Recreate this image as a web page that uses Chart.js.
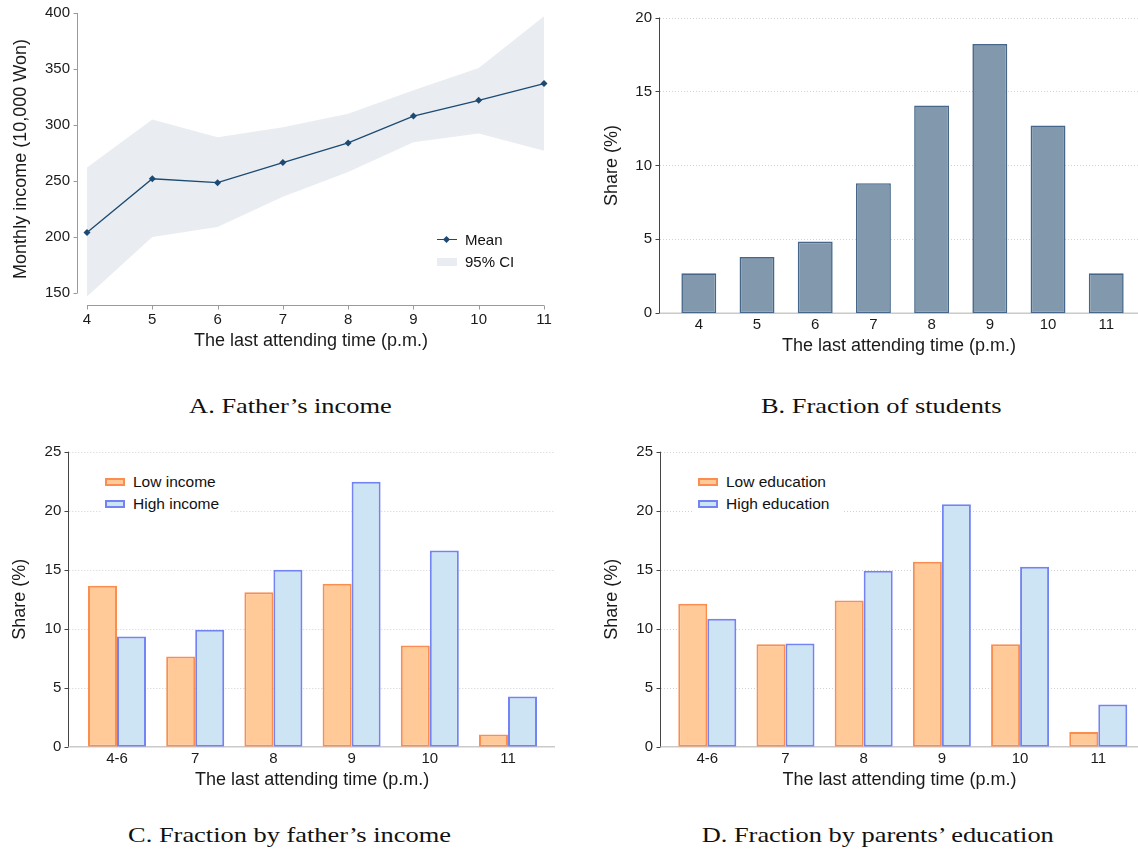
<!DOCTYPE html>
<html>
<head>
<meta charset="utf-8">
<script src="https://cdn.jsdelivr.net/npm/chart.js@4.4.1/dist/chart.umd.min.js"></script>
<style>
  html, body { margin: 0; padding: 0; background: #fff; overflow: hidden; }
  #pagina { position: relative; width: 1138px; height: 856px; }
  canvas { position: absolute; }
  .titulo { position: absolute; width: 600px; text-align: center; font-family: "Liberation Serif", serif; font-size: 22px; line-height: 26px; color: #111; }
  .titulo span { display: inline-block; transform: scaleX(1.2); }
  .leyenda { position: absolute; font-family: "Liberation Sans", Arial, sans-serif; font-size: 15.5px; color: #111; background: #fff; }
  .item { position: relative; height: 22px; line-height: 22px; padding-left: 32px; white-space: nowrap; }
  .caja { position: absolute; left: 4px; top: 7px; width: 16px; height: 4px; border: 2px solid; }
  .linea { position: absolute; left: 0; top: 10px; width: 20px; height: 0; border-top: 1.5px solid #1c4a72; }
  .rombo { position: absolute; left: 7px; top: 8px; width: 5px; height: 5px; background: #1c4a72; transform: rotate(45deg); }
</style>
</head>
<body>
<div id="pagina">
  <canvas id="graficoA" width="569" height="380" style="left:0;top:0"></canvas>
  <canvas id="graficoB" width="569" height="380" style="left:569px;top:0"></canvas>
  <canvas id="graficoC" width="569" height="380" style="left:0;top:428px"></canvas>
  <canvas id="graficoD" width="569" height="380" style="left:569px;top:428px"></canvas>

  <div class="leyenda" style="left:437px;top:229px;font-size:15px;background:transparent">
    <div class="item" style="padding-left:28px"><span class="linea"></span><span class="rombo"></span>Mean</div>
    <div class="item" style="padding-left:28px"><span class="caja" style="left:0;top:7px;width:20px;height:8px;border:none;background:#e9edf1"></span>95% CI</div>
  </div>
  <div class="leyenda" style="left:101px;top:470px;width:130px;height:50px;padding-top:1px">
    <div class="item"><span class="caja" style="background:#ffca98;border-color:#fb8d4f"></span>Low income</div>
    <div class="item"><span class="caja" style="background:#cde4f4;border-color:#7383f4"></span>High income</div>
  </div>
  <div class="leyenda" style="left:694px;top:470px;width:149px;height:50px;padding-top:1px">
    <div class="item"><span class="caja" style="background:#ffca98;border-color:#fb8d4f"></span>Low education</div>
    <div class="item"><span class="caja" style="background:#cde4f4;border-color:#7383f4"></span>High education</div>
  </div>

  <div class="titulo" style="left:-10px;top:393px"><span>A. Father’s income</span></div>
  <div class="titulo" style="left:581px;top:393px"><span>B. Fraction of students</span></div>
  <div class="titulo" style="left:-10px;top:822px"><span>C. Fraction by father’s income</span></div>
  <div class="titulo" style="left:578px;top:822px"><span>D. Fraction by parents’ education</span></div>
</div>
<script>
// Datos del panel A (ingreso del padre)
const horasA = [4, 5, 6, 7, 8, 9, 10, 11];
const ingresoMedio = [204, 252, 248.5, 266.5, 284, 308, 322, 337];
const ingresoSup = [262, 305, 289, 298, 310, 331, 351, 397];
const ingresoInf = [147, 200, 209, 236, 258, 284.5, 292.5, 277];
const ticksIngreso = [150, 200, 250, 300, 350, 400];

// Datos del panel B (fracción de estudiantes)
const horasB = [4, 5, 6, 7, 8, 9, 10, 11];
const fraccionTotal = [2.7, 3.8, 4.85, 8.8, 14.05, 18.2, 12.7, 2.7];
const ticksB = [0, 5, 10, 15, 20];

// Datos de los paneles C y D
const grupos = ['4-6', '7', '8', '9', '10', '11'];
const ingresoBajo = [13.64, 7.64, 13.08, 13.81, 8.57, 1.04];
const ingresoAlto = [9.33, 9.92, 14.99, 22.46, 16.63, 4.26];
const educBaja = [12.12, 8.68, 12.40, 15.67, 8.68, 1.24];
const educAlta = [10.85, 8.74, 14.91, 20.55, 15.25, 3.58];
const ticksCD = [0, 5, 10, 15, 20, 25];

const fuente = 'Liberation Sans';
const colorTexto = '#1a1a1a';

// Plugin para dibujar ejes y rejilla al estilo Stata
const ejesStata = {
    id: 'ejesStata',
    beforeDatasetsDraw(chart, args, opts) {
        if (!opts.rejilla) return;
        const { ctx, chartArea } = chart;
        const y = chart.scales.y;
        ctx.save();
        ctx.strokeStyle = '#d2d2d2';
        ctx.lineWidth = 1;
        ctx.setLineDash([1, 2]);
        y.ticks.forEach(t => {
            if (t.value === 0) return;
            const py = Math.round(y.getPixelForValue(t.value)) + 0.5;
            ctx.beginPath();
            ctx.moveTo(chartArea.left, py);
            ctx.lineTo(chartArea.right, py);
            ctx.stroke();
        });
        // línea base en cero
        ctx.setLineDash([]);
        ctx.strokeStyle = '#cacaca';
        ctx.lineWidth = 1.5;
        const p0 = y.getPixelForValue(0);
        ctx.beginPath();
        ctx.moveTo(chartArea.left, p0);
        ctx.lineTo(chartArea.right, p0);
        ctx.stroke();
        ctx.restore();
    },
    afterDatasetsDraw(chart, args, opts) {
        const { ctx, chartArea } = chart;
        const x = chart.scales.x;
        const y = chart.scales.y;
        const yt = y.ticks.map(t => y.getPixelForValue(t.value));
        ctx.save();
        ctx.strokeStyle = opts.colorY;
        ctx.lineWidth = 1;
        const ax = Math.round(chartArea.left) - 0.5;
        ctx.beginPath();
        ctx.moveTo(ax, Math.min(...yt));
        ctx.lineTo(ax, Math.max(...yt));
        yt.forEach(py => {
            ctx.moveTo(ax - 4, Math.round(py) + 0.5);
            ctx.lineTo(ax, Math.round(py) + 0.5);
        });
        ctx.stroke();
        if (opts.ejeX) {
            const xt = x.ticks.map(t => x.getPixelForValue(t.value));
            const ay = Math.round(chartArea.bottom) + 0.5;
            ctx.strokeStyle = opts.colorX;
            ctx.beginPath();
            ctx.moveTo(Math.min(...xt), ay);
            ctx.lineTo(Math.max(...xt), ay);
            xt.forEach(px => {
                ctx.moveTo(Math.round(px) + 0.5, ay);
                ctx.lineTo(Math.round(px) + 0.5, ay + 4);
            });
            ctx.stroke();
        }
        ctx.restore();
    }
};

// Escala vertical con ticks fijos
function escalaY(min, max, ticks, ancho, titulo) {
    return {
        type: 'linear', min: min, max: max,
        afterBuildTicks: s => { s.ticks = ticks.map(v => ({ value: v })); },
        afterFit: s => { s.width = ancho; s.paddingTop = 0; s.paddingBottom = 0; },
        grid: { display: false, drawTicks: false },
        border: { display: false },
        ticks: { padding: 8, color: colorTexto, font: { family: fuente, size: 15 } },
        title: { display: true, text: titulo, color: colorTexto, padding: 0, font: { family: fuente, size: 18 } }
    };
}

// Escala horizontal con ticks y etiquetas fijas
function escalaX(min, max, ticks, etiquetas, alto, relleno) {
    return {
        type: 'linear', min: min, max: max, offset: false,
        afterBuildTicks: s => { s.ticks = ticks.map(v => ({ value: v })); },
        afterFit: s => { s.height = alto; s.paddingLeft = 0; s.paddingRight = 0; },
        grid: { display: false, drawTicks: false },
        border: { display: false },
        ticks: {
            padding: relleno, autoSkip: false, maxRotation: 0, color: colorTexto,
            font: { family: fuente, size: 15 },
            callback: (v, i) => etiquetas[i]
        },
        title: { display: true, text: 'The last attending time (p.m.)', color: colorTexto, padding: 0, font: { family: fuente, size: 18 } }
    };
}

function puntos(xs, ys) {
    return xs.map((v, i) => ({ x: v, y: ys[i] }));
}

const opcionesBase = {
    responsive: false,
    animation: false,
    devicePixelRatio: 1
};

// Panel A: media y banda de confianza
new Chart(document.getElementById('graficoA').getContext('2d'), {
    type: 'line',
    data: {
        datasets: [
            {
                label: 'Mean', data: puntos(horasA, ingresoMedio),
                borderColor: '#1c4a72', backgroundColor: '#1c4a72', borderWidth: 1.3,
                pointStyle: 'rectRot', pointRadius: 3.5, pointBorderWidth: 0, fill: false, clip: false
            },
            {
                label: '95% CI', data: puntos(horasA, ingresoSup),
                borderWidth: 0, pointRadius: 0, backgroundColor: '#e9edf1', fill: '+1', clip: false
            },
            {
                label: 'inf', data: puntos(horasA, ingresoInf),
                borderWidth: 0, pointRadius: 0, fill: false, clip: false
            }
        ]
    },
    options: Object.assign({}, opcionesBase, {
        layout: { padding: { left: 10, top: 13, right: 25, bottom: 28 } },
        scales: {
            x: escalaX(3.862, 11, horasA, horasA.map(String), 47, 6),
            y: escalaY(139.3, 400, ticksIngreso, 68, 'Monthly income (10,000 Won)')
        },
        plugins: {
            legend: { display: false }, tooltip: { enabled: false },
            ejesStata: { rejilla: false, ejeX: true, colorY: '#9a9a9a', colorX: '#9a9a9a' }
        }
    }),
    plugins: [ejesStata]
});

// Panel B: fracción de estudiantes
new Chart(document.getElementById('graficoB').getContext('2d'), {
    type: 'bar',
    data: {
        datasets: [{
            label: 'Share', data: puntos(horasB, fraccionTotal),
            backgroundColor: '#8198ad', borderColor: '#46678a', borderWidth: 1.6,
            borderSkipped: false, barPercentage: 0.6, categoryPercentage: 1
        }]
    },
    options: Object.assign({}, opcionesBase, {
        layout: { padding: { left: 32, top: 17.5, right: 0, bottom: 22.7 } },
        scales: {
            x: escalaX(3.333, 11.546, horasB, horasB.map(String), 44, 3),
            y: escalaY(0, 20, ticksB, 59, 'Share (%)')
        },
        plugins: {
            legend: { display: false }, tooltip: { enabled: false },
            ejesStata: { rejilla: true, ejeX: false, colorY: '#444' }
        }
    }),
    plugins: [ejesStata]
});

// Paneles C y D: barras agrupadas
function graficoAgrupado(id, bajo, alto, etiquetaBajo, etiquetaAlto, xMin, xMax, relleno, anchoY) {
    const indices = grupos.map((g, i) => i);
    new Chart(document.getElementById(id).getContext('2d'), {
        type: 'bar',
        data: {
            datasets: [
                {
                    label: etiquetaBajo, data: puntos(indices, bajo),
                    backgroundColor: '#ffca98', borderColor: '#fb8d4f', borderWidth: 2,
                    borderSkipped: false, barPercentage: 1, categoryPercentage: 0.742
                },
                {
                    label: etiquetaAlto, data: puntos(indices, alto),
                    backgroundColor: '#cde4f4', borderColor: '#7383f4', borderWidth: 2,
                    borderSkipped: false, barPercentage: 1, categoryPercentage: 0.742
                }
            ]
        },
        options: Object.assign({}, opcionesBase, {
            layout: { padding: relleno },
            scales: {
                x: escalaX(xMin, xMax, indices, grupos, 44.1, 3),
                y: escalaY(0, 25, ticksCD, anchoY, 'Share (%)')
            },
            plugins: {
                legend: { display: false }, tooltip: { enabled: false },
                ejesStata: { rejilla: true, ejeX: false, colorY: '#444' }
            }
        }),
        plugins: [ejesStata]
    });
}

graficoAgrupado('graficoC', ingresoBajo, ingresoAlto, 'Low income', 'High income',
    -0.61, 5.601, { left: 9.2, top: 23.7, right: 14, bottom: 17.2 }, 60.1);
graficoAgrupado('graficoD', educBaja, educAlta, 'Low education', 'High education',
    -0.592, 5.508, { left: 32.2, top: 23.7, right: 0, bottom: 17.2 }, 59.8);
</script>
</body>
</html>
